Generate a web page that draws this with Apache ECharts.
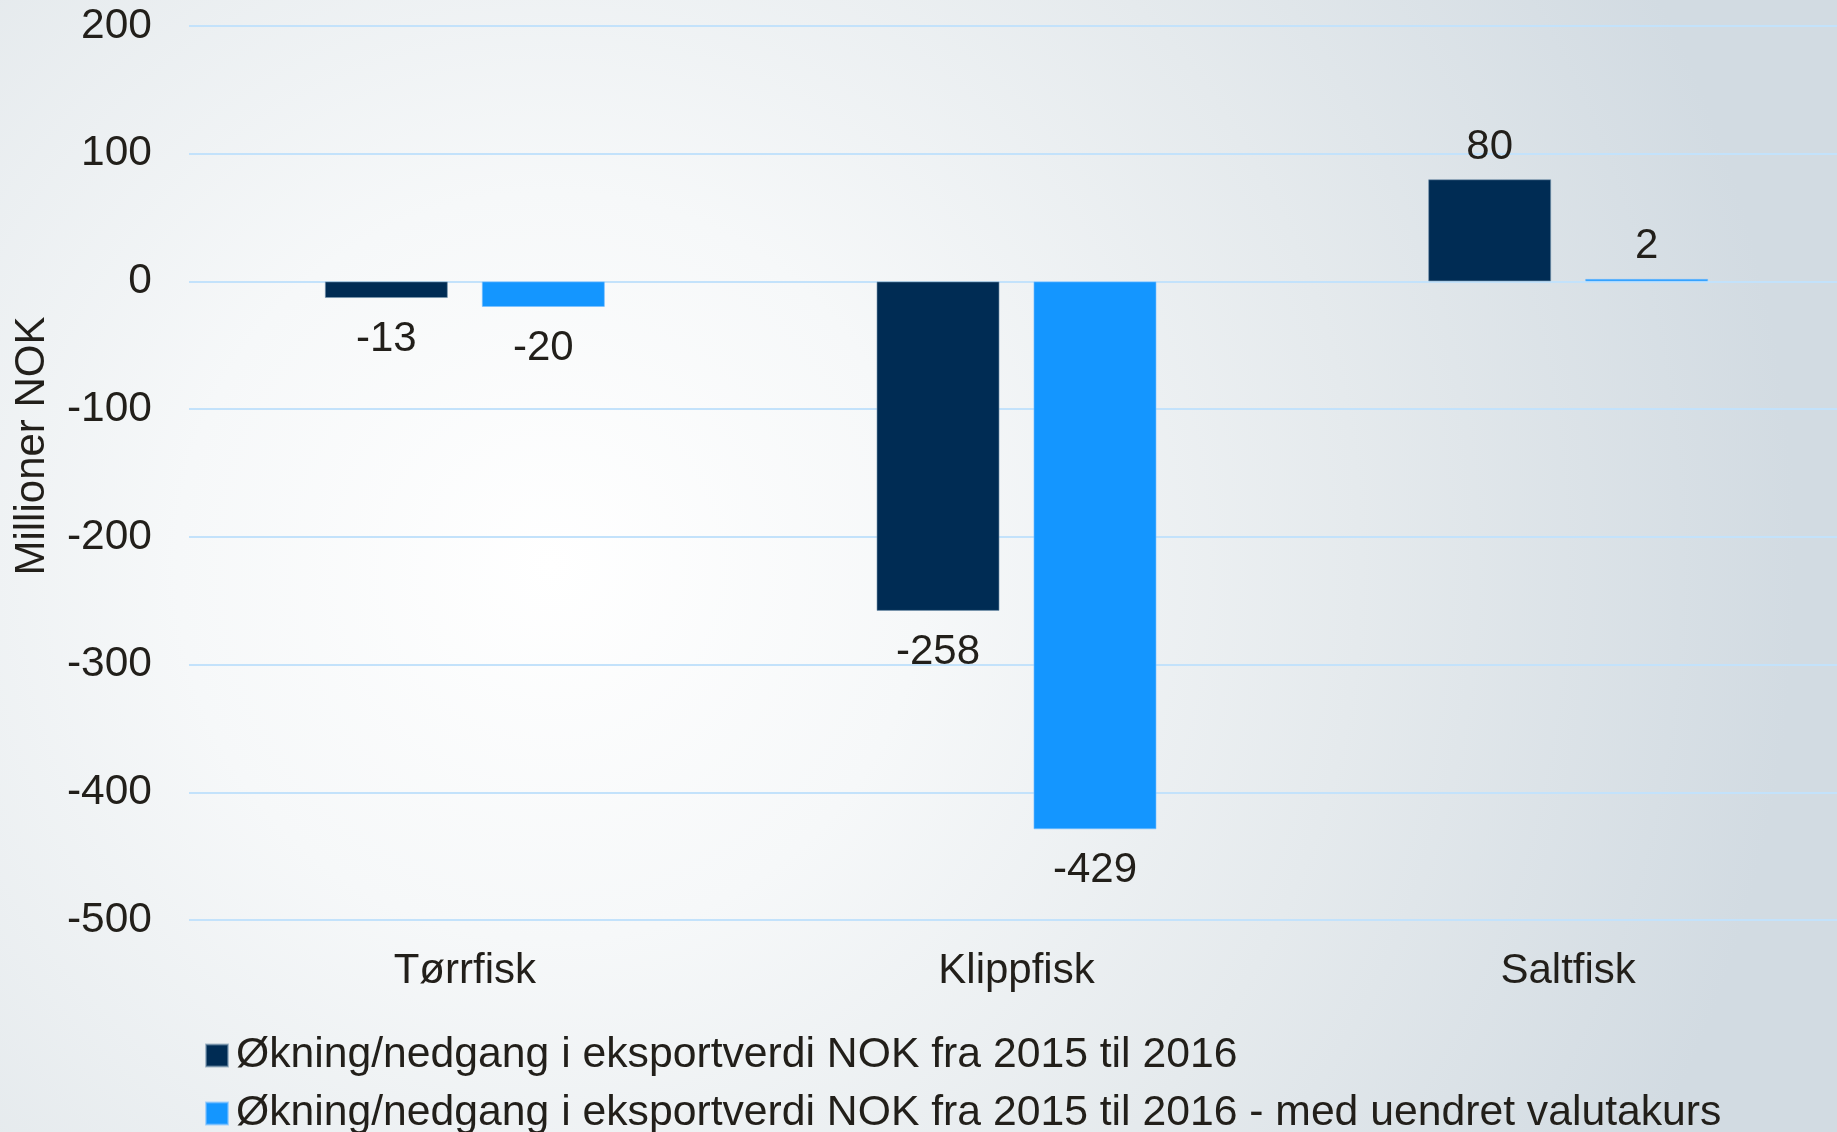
<!DOCTYPE html>
<html>
<head>
<meta charset="utf-8">
<script src="https://cdn.jsdelivr.net/npm/echarts@6/dist/echarts.min.js"></script>
<style>
  html, body { margin: 0; padding: 0; }
  #main { width: 1837px; height: 1132px; }
</style>
</head>
<body>
<div id="main"></div>
<script>
// kategorier og verdier (millioner NOK)
var categories = ['Tørrfisk', 'Klippfisk', 'Saltfisk'];
var endringNok = [-13, -258, 80];
var endringFastKurs = [-20, -429, 2];
var seriesNames = [
    'Økning/nedgang i eksportverdi NOK fra 2015 til 2016',
    'Økning/nedgang i eksportverdi NOK fra 2015 til 2016 - med uendret valutakurs'
];

var textColor = '#221f1a';
var fontFamily = '"Liberation Sans", Arial, sans-serif';

// etikett under negative søyler, over positive
function withLabels(values) {
    return values.map(function (v) {
        return { value: v, label: { distance: v < 0 ? 20 : 11 } };
    });
}

function drawChart() {
    var myChart = echarts.init(document.getElementById('main'));

    var labelStyle = {
        show: true,
        position: 'outside',
        color: textColor,
        fontSize: 42,
        fontFamily: fontFamily
    };

    var option = {
        backgroundColor: {
            type: 'radial',
            x: 0.3,
            y: 0.5,
            r: 1.1,
            colorStops: [
                { offset: 0, color: '#ffffff' },
                { offset: 0.3, color: '#f6f8f9' },
                { offset: 0.65, color: '#e5eaed' },
                { offset: 1, color: '#d2dbe2' }
            ]
        },
        animation: false,
        textStyle: { fontFamily: fontFamily },
        grid: {
            left: 189,
            right: -7,
            top: 26,
            bottom: 212,
            outerBoundsMode: 'none'
        },
        legend: {
            orient: 'vertical',
            left: 200,
            top: 1029,
            height: 200,
            icon: 'rect',
            itemWidth: 22,
            itemHeight: 22,
            itemGap: 15,
            textStyle: {
                color: textColor,
                fontSize: 42.7,
                padding: [0, 0, 0, 3]
            },
            data: seriesNames
        },
        xAxis: {
            type: 'category',
            data: categories,
            axisLine: { show: false, onZero: false },
            axisTick: { show: false },
            axisLabel: {
                color: textColor,
                fontSize: 42,
                margin: 30
            }
        },
        yAxis: {
            type: 'value',
            min: -500,
            max: 200,
            interval: 100,
            name: 'Millioner NOK',
            nameLocation: 'middle',
            nameGap: 136,
            nameTextStyle: {
                color: textColor,
                fontSize: 42,
                padding: [0, 0, 0, 54]
            },
            axisLine: { show: false },
            axisTick: { show: false },
            axisLabel: {
                color: textColor,
                fontSize: 42.5,
                margin: 37
            },
            splitLine: {
                lineStyle: { color: '#c3e2fb', width: 2 }
            }
        },
        series: [{
            name: seriesNames[0],
            type: 'bar',
            data: withLabels(endringNok),
            barWidth: '22.3%',
            barGap: '27.6%',
            itemStyle: {
                color: '#002c54',
                borderColor: 'rgba(120,150,175,0.6)',
                borderWidth: 1
            },
            label: labelStyle
        }, {
            name: seriesNames[1],
            type: 'bar',
            data: withLabels(endringFastKurs),
            barWidth: '22.3%',
            itemStyle: {
                color: '#1496ff',
                borderColor: 'rgba(120,190,255,0.6)',
                borderWidth: 1
            },
            label: labelStyle
        }]
    };

    myChart.setOption(option);
}

drawChart();
</script>
</body>
</html>
